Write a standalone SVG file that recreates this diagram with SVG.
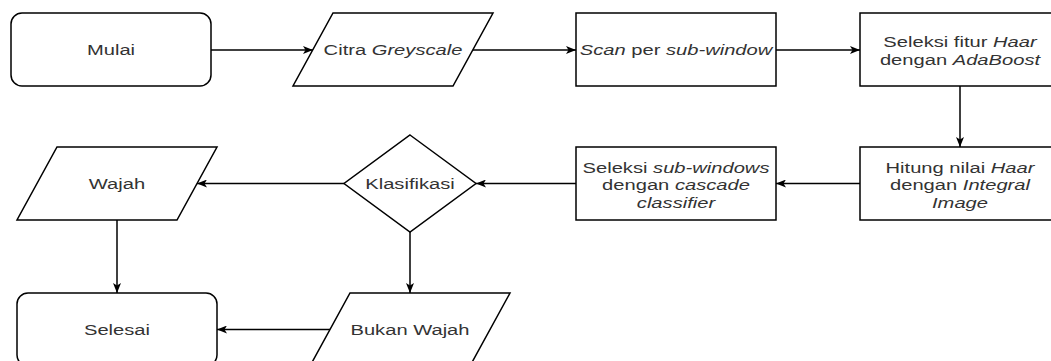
<svg xmlns="http://www.w3.org/2000/svg" width="1051" height="361" viewBox="0 0 1051 361">
  <style>
    .shape { fill: #ffffff; stroke: #000000; stroke-width: 1.5; }
    .edge { fill: none; stroke: #000000; stroke-width: 1.5; }
    .lbl { font-family: "Liberation Sans", Arial, sans-serif; font-size: 15.5px; fill: #333333; text-anchor: middle; }
    .it { font-style: italic; }
  </style>
  <defs>
    <marker id="arrow" viewBox="0 0 10 8" markerWidth="10" markerHeight="8" refX="10" refY="4" orient="auto" markerUnits="userSpaceOnUse">
      <path d="M0,0 L10,4 L0,8 L2.5,4 z" fill="#000000"/>
    </marker>
  </defs>
  <rect width="1051" height="361" fill="#ffffff"/>

  <g id="connectors">
    <line class="edge" x1="211" y1="50" x2="313" y2="50" marker-end="url(#arrow)"/>
    <line class="edge" x1="473" y1="50" x2="576" y2="50" marker-end="url(#arrow)"/>
    <line class="edge" x1="776" y1="50" x2="860" y2="50" marker-end="url(#arrow)"/>
    <line class="edge" x1="960" y1="86" x2="960" y2="147" marker-end="url(#arrow)"/>
    <line class="edge" x1="860" y1="183.5" x2="776" y2="183.5" marker-end="url(#arrow)"/>
    <line class="edge" x1="576" y1="183.5" x2="476" y2="183.5" marker-end="url(#arrow)"/>
    <line class="edge" x1="344" y1="183.5" x2="197" y2="183.5" marker-end="url(#arrow)"/>
    <line class="edge" x1="410" y1="232" x2="410" y2="293" marker-end="url(#arrow)"/>
    <line class="edge" x1="117" y1="220" x2="117" y2="293" marker-end="url(#arrow)"/>
    <line class="edge" x1="330" y1="329.5" x2="217" y2="329.5" marker-end="url(#arrow)"/>
  </g>

  <g id="mulai">
    <rect class="shape" x="11" y="13" width="200" height="73" rx="11" ry="11"/>
    <text class="lbl" transform="translate(111,0) scale(1.3,1)" x="0" y="55">Mulai</text>
  </g>

  <g id="citra">
    <polygon class="shape" points="333,13 493,13 453,86 293,86"/>
    <text class="lbl" transform="translate(393,0) scale(1.3,1)" x="0" y="55">Citra <tspan class="it">Greyscale</tspan></text>
  </g>

  <g id="scan">
    <rect class="shape" x="576" y="13" width="200" height="73"/>
    <text class="lbl" transform="translate(676,0) scale(1.3,1)" x="0" y="55"><tspan class="it">Scan</tspan> per <tspan class="it">sub-window</tspan></text>
  </g>

  <g id="seleksi-fitur">
    <rect class="shape" x="860" y="13" width="200" height="73"/>
    <text class="lbl" transform="translate(960,0) scale(1.3,1)" x="0" y="47.5">Seleksi fitur <tspan class="it">Haar</tspan></text>
    <text class="lbl" transform="translate(960,0) scale(1.3,1)" x="0" y="65.5">dengan <tspan class="it">AdaBoost</tspan></text>
  </g>

  <g id="hitung">
    <rect class="shape" x="860" y="147" width="200" height="73"/>
    <text class="lbl" transform="translate(960,0) scale(1.3,1)" x="0" y="173">Hitung nilai <tspan class="it">Haar</tspan></text>
    <text class="lbl" transform="translate(960,0) scale(1.3,1)" x="0" y="190.5">dengan <tspan class="it">Integral</tspan></text>
    <text class="lbl it" transform="translate(960,0) scale(1.3,1)" x="0" y="208">Image</text>
  </g>

  <g id="seleksi-subwindows">
    <rect class="shape" x="576" y="147" width="200" height="73"/>
    <text class="lbl" transform="translate(676,0) scale(1.3,1)" x="0" y="173">Seleksi <tspan class="it">sub-windows</tspan></text>
    <text class="lbl" transform="translate(676,0) scale(1.3,1)" x="0" y="190.5">dengan <tspan class="it">cascade</tspan></text>
    <text class="lbl it" transform="translate(676,0) scale(1.3,1)" x="0" y="208">classifier</text>
  </g>

  <g id="klasifikasi">
    <polygon class="shape" points="410,135 476,183.5 410,232 344,183.5"/>
    <text class="lbl" transform="translate(410,0) scale(1.3,1)" x="0" y="189">Klasifikasi</text>
  </g>

  <g id="wajah">
    <polygon class="shape" points="57,147 217,147 177,220 17,220"/>
    <text class="lbl" transform="translate(117,0) scale(1.3,1)" x="0" y="189">Wajah</text>
  </g>

  <g id="bukan-wajah">
    <polygon class="shape" points="350,293 510,293 470,366 310,366"/>
    <text class="lbl" transform="translate(410,0) scale(1.3,1)" x="0" y="335">Bukan Wajah</text>
  </g>

  <g id="selesai">
    <rect class="shape" x="17" y="293" width="200" height="73" rx="11" ry="11"/>
    <text class="lbl" transform="translate(117,0) scale(1.3,1)" x="0" y="335">Selesai</text>
  </g>
</svg>
